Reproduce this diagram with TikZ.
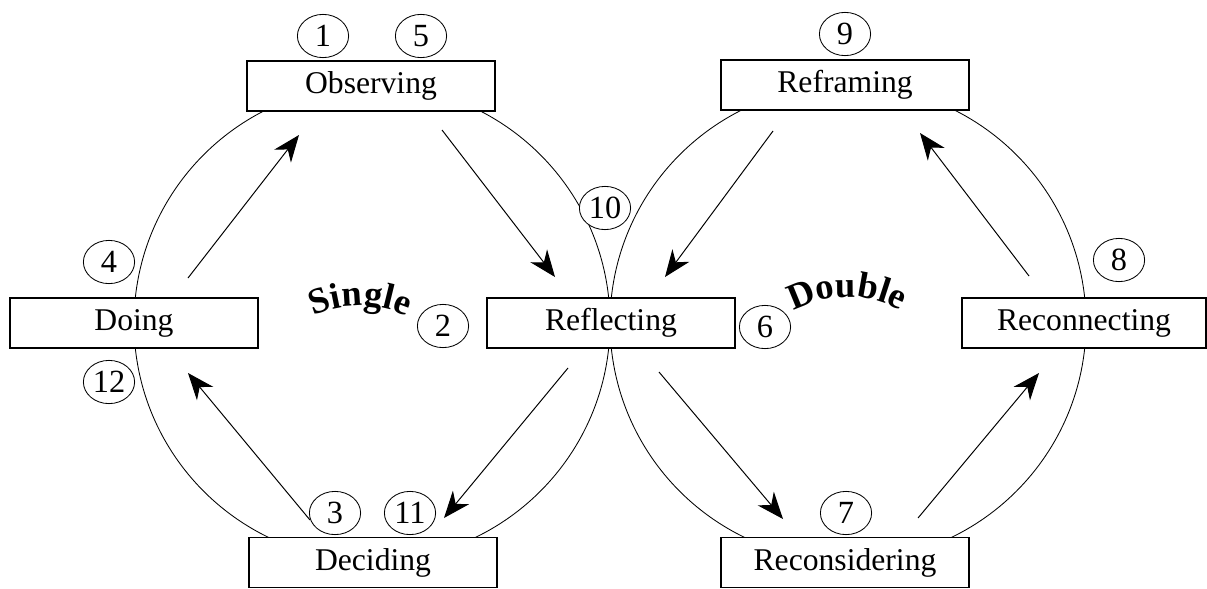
\documentclass[tikz,border=0pt]{standalone}
\usepackage{fontspec}
\setmainfont{Liberation Serif}
\usetikzlibrary{shapes.geometric,arrows.meta,decorations.text}
\begin{document}
\begin{tikzpicture}[x=0.025cm, y=0.025cm,
  stage/.style={draw, line width=1pt, fill=white, minimum width=6.2cm,
    minimum height=1.25cm, inner sep=0pt, font=\fontsize{22.5}{27}\selectfont},
  num/.style={ellipse, draw, line width=0.6pt, fill=white, minimum width=1.28cm,
    minimum height=1.08cm, inner sep=0pt, font=\fontsize{23}{27}\selectfont},
  flow/.style={-{Stealth[length=19pt, width=15pt, inset=6pt]}, line width=0.7pt},
  loopword/.style={decorate, decoration={text along path, text align=center,
    text={|\fontsize{26}{26}\selectfont\bfseries|#1}}}]
\useasboundingbox (0,0) rectangle (1207,588);
% the two loops
\draw[line width=0.6pt] (372,265) circle[radius=238];
\draw[line width=0.6pt] (848,265) circle[radius=238];
% stages
\node[stage] (obs)    at (371,502)  {Observing};
\node[stage] (refl)   at (611,265)  {Reflecting};
\node[stage] (dec)    at (373,25.5) {Deciding};
\node[stage] (doing)  at (134,265)  {Doing};
\node[stage] (refr)   at (845,503)  {Reframing};
\node[stage, minimum width=6.1cm] (recon) at (1084,265) {Reconnecting};
\node[stage] (recons) at (845,25.5) {Reconsidering};
% steps
\node[num] (n1)  at (323,552) {1};
\node[num] (n2)  at (443,262) {2};
\node[num] (n3)  at (335,75)  {3};
\node[num] (n4)  at (109,326) {4};
\node[num] (n5)  at (421,552) {5};
\node[num] (n6)  at (765,261) {6};
\node[num] (n7)  at (846,75)  {7};
\node[num] (n8)  at (1119,328) {8};
\node[num] (n9)  at (845,554) {9};
\node[num] (n10) at (605,380) {10};
\node[num] (n11) at (410,75)  {11};
\node[num] (n12) at (109,206) {12};
% arrows
\coordinate (a1) at (188,310);  \coordinate (b1) at (299,453);
\coordinate (a2) at (442,458);  \coordinate (b2) at (555,311);
\coordinate (a3) at (568,220);  \coordinate (b3) at (444,70);
\coordinate (a4) at (310,68);   \coordinate (b4) at (188,215);
\coordinate (a5) at (773,457);  \coordinate (b5) at (665,311);
\coordinate (a6) at (659,216);  \coordinate (b6) at (783,69);
\coordinate (a7) at (918,70);   \coordinate (b7) at (1039,215);
\coordinate (a8) at (1029,312); \coordinate (b8) at (920,455);
\foreach \i in {1,...,8}
  \draw[flow] (a\i) -- (b\i);
% loop names
\path[loopword=Single] (360,172) ++(140:110) arc[start angle=140, end angle=40, radius=110];
\path[loopword=Double] (847,181) ++(140:110) arc[start angle=140, end angle=40, radius=110];
\end{tikzpicture}
\end{document}
